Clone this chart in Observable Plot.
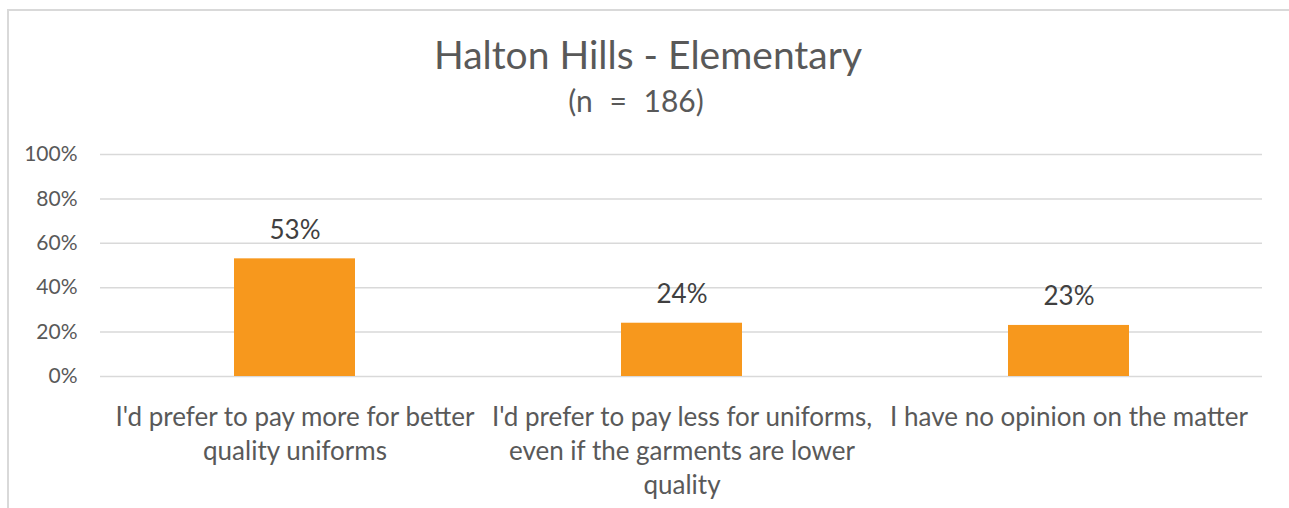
<!DOCTYPE html>
<html>
<head>
<meta charset="utf-8">
<script src="https://cdn.jsdelivr.net/npm/d3@7"></script>
<script src="https://cdn.jsdelivr.net/npm/@observablehq/plot@0.6"></script>
<style>
  html, body { margin: 0; padding: 0; background: #fff; overflow: hidden; }
  body { width: 1289px; height: 508px; position: relative; font-family: Lato, "Open Sans", sans-serif; }
  #frame { position: absolute; left: 7px; top: 9px; width: 1300px; height: 520px;
           border-top: 2px solid #d9d9d9; border-left: 2px solid #d9d9d9; box-sizing: border-box; }
  .title { position: absolute; left: 0; width: 1296px; text-align: center; color: #595959; line-height: 1.2; white-space: nowrap; }
  #t1 { font-size: 39px; top: 30.5px; }
  #t2 { font-size: 30px; top: 82px; left: -12px; word-spacing: 9px; }
  #chart { position: absolute; left: 0; top: 125px; }
</style>
</head>
<body>
<div id="frame"></div>
<div class="title" id="t1">Halton Hills - Elementary</div>
<div class="title" id="t2">(n = 186)</div>
<div id="chart"></div>
<script>
const categories = [
  "I'd prefer to pay more for better quality uniforms",
  "I'd prefer to pay less for uniforms, even if the garments are lower quality",
  "I have no opinion on the matter"
];
const tickLabels = [
  "I'd prefer to pay more for better\nquality uniforms",
  "I'd prefer to pay less for uniforms,\neven if the garments are lower\nquality",
  "I have no opinion on the matter"
];
const values = [0.53, 0.24, 0.23];
const yTicks = [0, 0.2, 0.4, 0.6, 0.8, 1.0];

const data = categories.map((c, i) => ({category: c, value: values[i]}));
const pct = d3.format(".0%");

const chart = Plot.plot({
  width: 1289,
  height: 383,
  marginTop: 29,
  marginBottom: 132,
  marginLeft: 100,
  marginRight: 27,
  style: {fontFamily: "Lato, 'Open Sans', sans-serif", color: "#595959", background: "transparent", overflow: "visible"},
  x: {type: "band", domain: categories, paddingInner: 0.6876, paddingOuter: 0.3438},
  y: {domain: [0, 1]},
  marks: [
    Plot.gridY(yTicks, {stroke: "#d9d9d9", strokeOpacity: 1, strokeWidth: 1.5}),
    Plot.axisY(yTicks, {tickSize: 0, tickPadding: 23, tickFormat: pct, fontSize: 21, fill: "#595959", label: null}),
    Plot.axisX({tickSize: 0, tickPadding: 25.5, fontSize: 26, lineHeight: 1.31, fill: "#595959", label: null,
                tickFormat: d => tickLabels[categories.indexOf(d)]}),
    Plot.barY(data, {x: "category", y: "value", fill: "#F7981D"}),
    Plot.text(data, {x: "category", y: "value", text: d => pct(d.value), lineAnchor: "bottom", dy: -20, fontSize: 26, fill: "#404040"})
  ]
});
document.getElementById("chart").appendChild(chart);
</script>
</body>
</html>
